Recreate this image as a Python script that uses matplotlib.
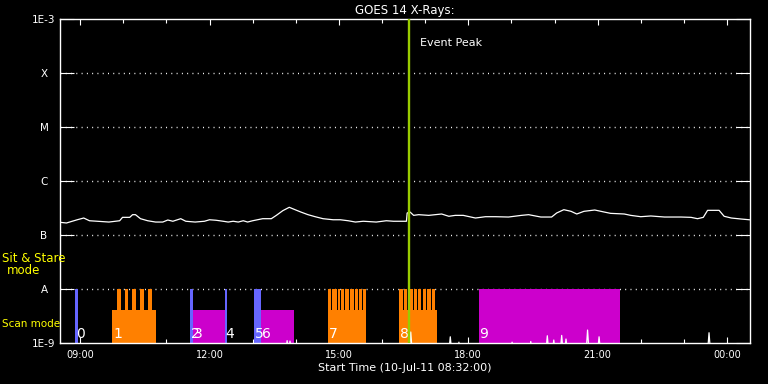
import datetime as dt
import matplotlib
matplotlib.use("Agg")
import matplotlib.pyplot as plt
import matplotlib.dates as mdates
from matplotlib.ticker import NullLocator

start = dt.datetime(2011, 7, 10, 8, 32)
span_hours = 16

# GOES 1-8 A flux (minutes after start, W/m^2)
goes_min = [0, 9, 17, 24, 33, 41, 52, 68, 83, 87, 97, 101, 105, 112, 122, 133, 143, 150,
            157, 168, 175, 188, 201, 208, 217, 227, 234, 241, 248, 255, 261, 268, 282, 294,
            301, 310, 319, 327, 335, 345, 355, 366, 380, 390, 401, 411, 422, 440, 454, 464,
            482, 483, 487, 492, 499, 513, 531, 541, 550, 561, 578, 592, 606, 624, 642, 652,
            669, 684, 691, 701, 711, 719, 729, 744, 757, 766, 785, 794, 808, 822, 841, 864,
            878, 887, 895, 901, 917, 924, 934, 948, 959]
goes_flux = [1.74e-7, 1.69e-7, 1.82e-7, 1.94e-7, 2.09e-7, 1.86e-7, 1.82e-7, 1.76e-7, 1.86e-7,
             2.15e-7, 2.15e-7, 2.41e-7, 2.41e-7, 2.03e-7, 1.86e-7, 1.76e-7, 1.76e-7, 1.92e-7,
             1.82e-7, 2.03e-7, 1.82e-7, 1.76e-7, 1.82e-7, 1.94e-7, 1.90e-7, 1.82e-7, 1.76e-7,
             1.82e-7, 1.76e-7, 1.86e-7, 1.76e-7, 1.86e-7, 2.03e-7, 2.03e-7, 2.34e-7, 2.86e-7,
             3.30e-7, 2.98e-7, 2.70e-7, 2.41e-7, 2.21e-7, 2.03e-7, 1.94e-7, 1.94e-7, 1.86e-7,
             1.76e-7, 1.82e-7, 1.76e-7, 1.86e-7, 1.82e-7, 1.82e-7, 2.59e-7, 2.70e-7, 2.34e-7,
             2.41e-7, 2.34e-7, 2.48e-7, 2.25e-7, 2.34e-7, 2.34e-7, 2.09e-7, 2.21e-7, 2.21e-7,
             2.18e-7, 2.34e-7, 2.41e-7, 2.18e-7, 2.18e-7, 2.59e-7, 2.98e-7, 2.78e-7, 2.48e-7,
             2.78e-7, 2.94e-7, 2.70e-7, 2.55e-7, 2.48e-7, 2.34e-7, 2.21e-7, 2.28e-7, 2.18e-7,
             2.18e-7, 2.15e-7, 2.03e-7, 2.15e-7, 2.90e-7, 2.90e-7, 2.25e-7, 2.09e-7, 2.00e-7,
             1.94e-7]

# GOES 0.5-4 A flux, mostly below the plot floor
short_min = [0, 314, 316, 318, 320, 322, 486, 488, 490, 541, 543, 545, 554, 555, 556, 627, 629,
             631, 653, 655, 657, 676, 678, 680, 685, 687, 689, 696, 698, 700, 702, 704, 706,
             732, 734, 736, 748, 750, 752, 901, 903, 905, 959]
short_flux = [7e-10, 7e-10, 1.12e-9, 7e-10, 1.1e-9, 7e-10, 7e-10, 1.62e-9, 7e-10, 7e-10,
              1.32e-9, 7e-10, 7e-10, 1.05e-9, 7e-10, 7e-10, 1.05e-9, 7e-10, 7e-10, 1.08e-9,
              7e-10, 7e-10, 1.38e-9, 7e-10, 7e-10, 1.15e-9, 7e-10, 7e-10, 1.4e-9, 7e-10,
              7e-10, 1.2e-9, 7e-10, 7e-10, 1.76e-9, 7e-10, 7e-10, 1.32e-9, 7e-10, 7e-10,
              1.57e-9, 7e-10, 7e-10]

# observing blocks
block_label = ['0', '1', '2', '3', '4', '5', '6', '7', '8', '9']
block_start = [21.5, 73, 180.5, 184.7, 229, 270, 279.6, 373, 472, 582.4]
block_end = [25.3, 134, 184.7, 229, 231.8, 279.6, 325, 425.7, 524.8, 778.7]
block_top = [1e-8, 4.1e-9, 1e-8, 4.1e-9, 1e-8, 1e-8, 4.1e-9, 4.1e-9, 4.1e-9, 1e-8]
block_kind = ['cal', 'raster', 'cal', 'sas', 'cal', 'cal', 'sas', 'raster', 'raster', 'sas']

# individual rasters inside the raster blocks
raster_start = [78.7, 89.9, 100.0, 110.8, 121.9,
                373.2, 379.1, 386.1, 391.2, 396.8, 402.8, 409.8, 415.4, 421.5,
                472.2, 478.7, 485.1, 492.1, 498.3, 504.7, 511.2, 517.8]
raster_end = [85.3, 95.0, 106.2, 116.8, 128.5,
              377.7, 384.7, 389.8, 395.4, 401.4, 408.4, 414.0, 420.1, 426.1,
              476.8, 483.3, 490.7, 496.3, 502.9, 509.4, 515.8, 522.4]

event_peak_min = 485.7

levels = [1e-3, 1e-4, 1e-5, 1e-6, 1e-7, 1e-8, 1e-9]
level_names = ['1E-3', 'X', 'M', 'C', 'B', 'A', '1E-9']

kind_colors = {'cal': '#6666ff', 'raster': '#ff8000', 'sas': '#cc00cc'}


def when(m):
    return mdates.date2num(start + dt.timedelta(minutes=m))


fig = plt.figure(figsize=(7.68, 3.84), dpi=100, facecolor='black')
ax = fig.add_axes([60 / 768, 1 - 343.3 / 384, 690 / 768, 324 / 384], facecolor='black')
ax.set_yscale('log')
ax.set_ylim(1e-9, 1e-3)
ax.set_xlim(when(0), when(span_hours * 60))

for lv in levels[1:-1]:
    ax.axhline(lv, color='white', lw=1, ls=(0, (0.7, 3.1)), zorder=1)

for s, e, top, kind in zip(block_start, block_end, block_top, block_kind):
    ax.bar(x=when(s), height=top - 1e-9, width=when(e) - when(s), bottom=1e-9, align='edge',
           color=kind_colors[kind], lw=0, zorder=2)
for s, e in zip(raster_start, raster_end):
    ax.bar(x=when(s), height=1e-8 - 1e-9, width=when(e) - when(s), bottom=1e-9, align='edge',
           color=kind_colors['raster'], lw=0, zorder=2)

ax.plot([when(m) for m in goes_min], goes_flux, color='white', lw=0.9, zorder=3)
ax.plot([when(m) for m in short_min], short_flux, color='white', lw=0.9, zorder=3)

for s, lab in zip(block_start, block_label):
    ax.text(when(s + 1.4), 1.25e-9, lab, color='white', fontsize=10, ha='left',
            va='baseline', zorder=4)

ax.axvline(when(event_peak_min), color='#99cc00', lw=1.7, zorder=5)
ax.annotate('Event Peak', xy=(when(event_peak_min), 3.67e-4), xytext=(8, 0),
            textcoords='offset points', color='white', fontsize=8, va='center', ha='left')

ax.set_yticks(levels)
ax.set_yticklabels(level_names, ha='center')
ax.yaxis.set_minor_locator(NullLocator())
ax.tick_params(axis='y', which='major', direction='in', length=10, width=0.8,
               colors='white', left=True, right=True, labelsize=7.5, pad=11.5)

ax.xaxis.set_major_locator(mdates.HourLocator(byhour=range(0, 24, 3)))
ax.xaxis.set_minor_locator(mdates.HourLocator())
ax.xaxis.set_major_formatter(mdates.DateFormatter('%H:%M'))
ax.tick_params(axis='x', which='major', direction='in', length=4.5, width=0.8,
               colors='white', top=True, bottom=True, labelsize=7, pad=5)
ax.tick_params(axis='x', which='minor', direction='in', length=2.8, width=0.8,
               colors='white', top=True, bottom=True)

for sp in ax.spines.values():
    sp.set_color('white')
    sp.set_linewidth(1)

ax.set_title('GOES 14 X-Rays:', color='white', fontsize=8.5, pad=4)
ax.set_xlabel('Start Time (10-Jul-11 08:32:00)', color='white', fontsize=8, labelpad=2)

fig.text(2 / 768, 1 - 259 / 384, 'Sit & Stare', color='yellow', fontsize=8.5,
         ha='left', va='center')
fig.text(24 / 768, 1 - 271 / 384, 'mode', color='yellow', fontsize=8.5,
         ha='center', va='center')
fig.text(2 / 768, 1 - 324 / 384, 'Scan mode', color='yellow', fontsize=7.5,
         ha='left', va='center')

fig.savefig('out.png', dpi=100, facecolor='black')
